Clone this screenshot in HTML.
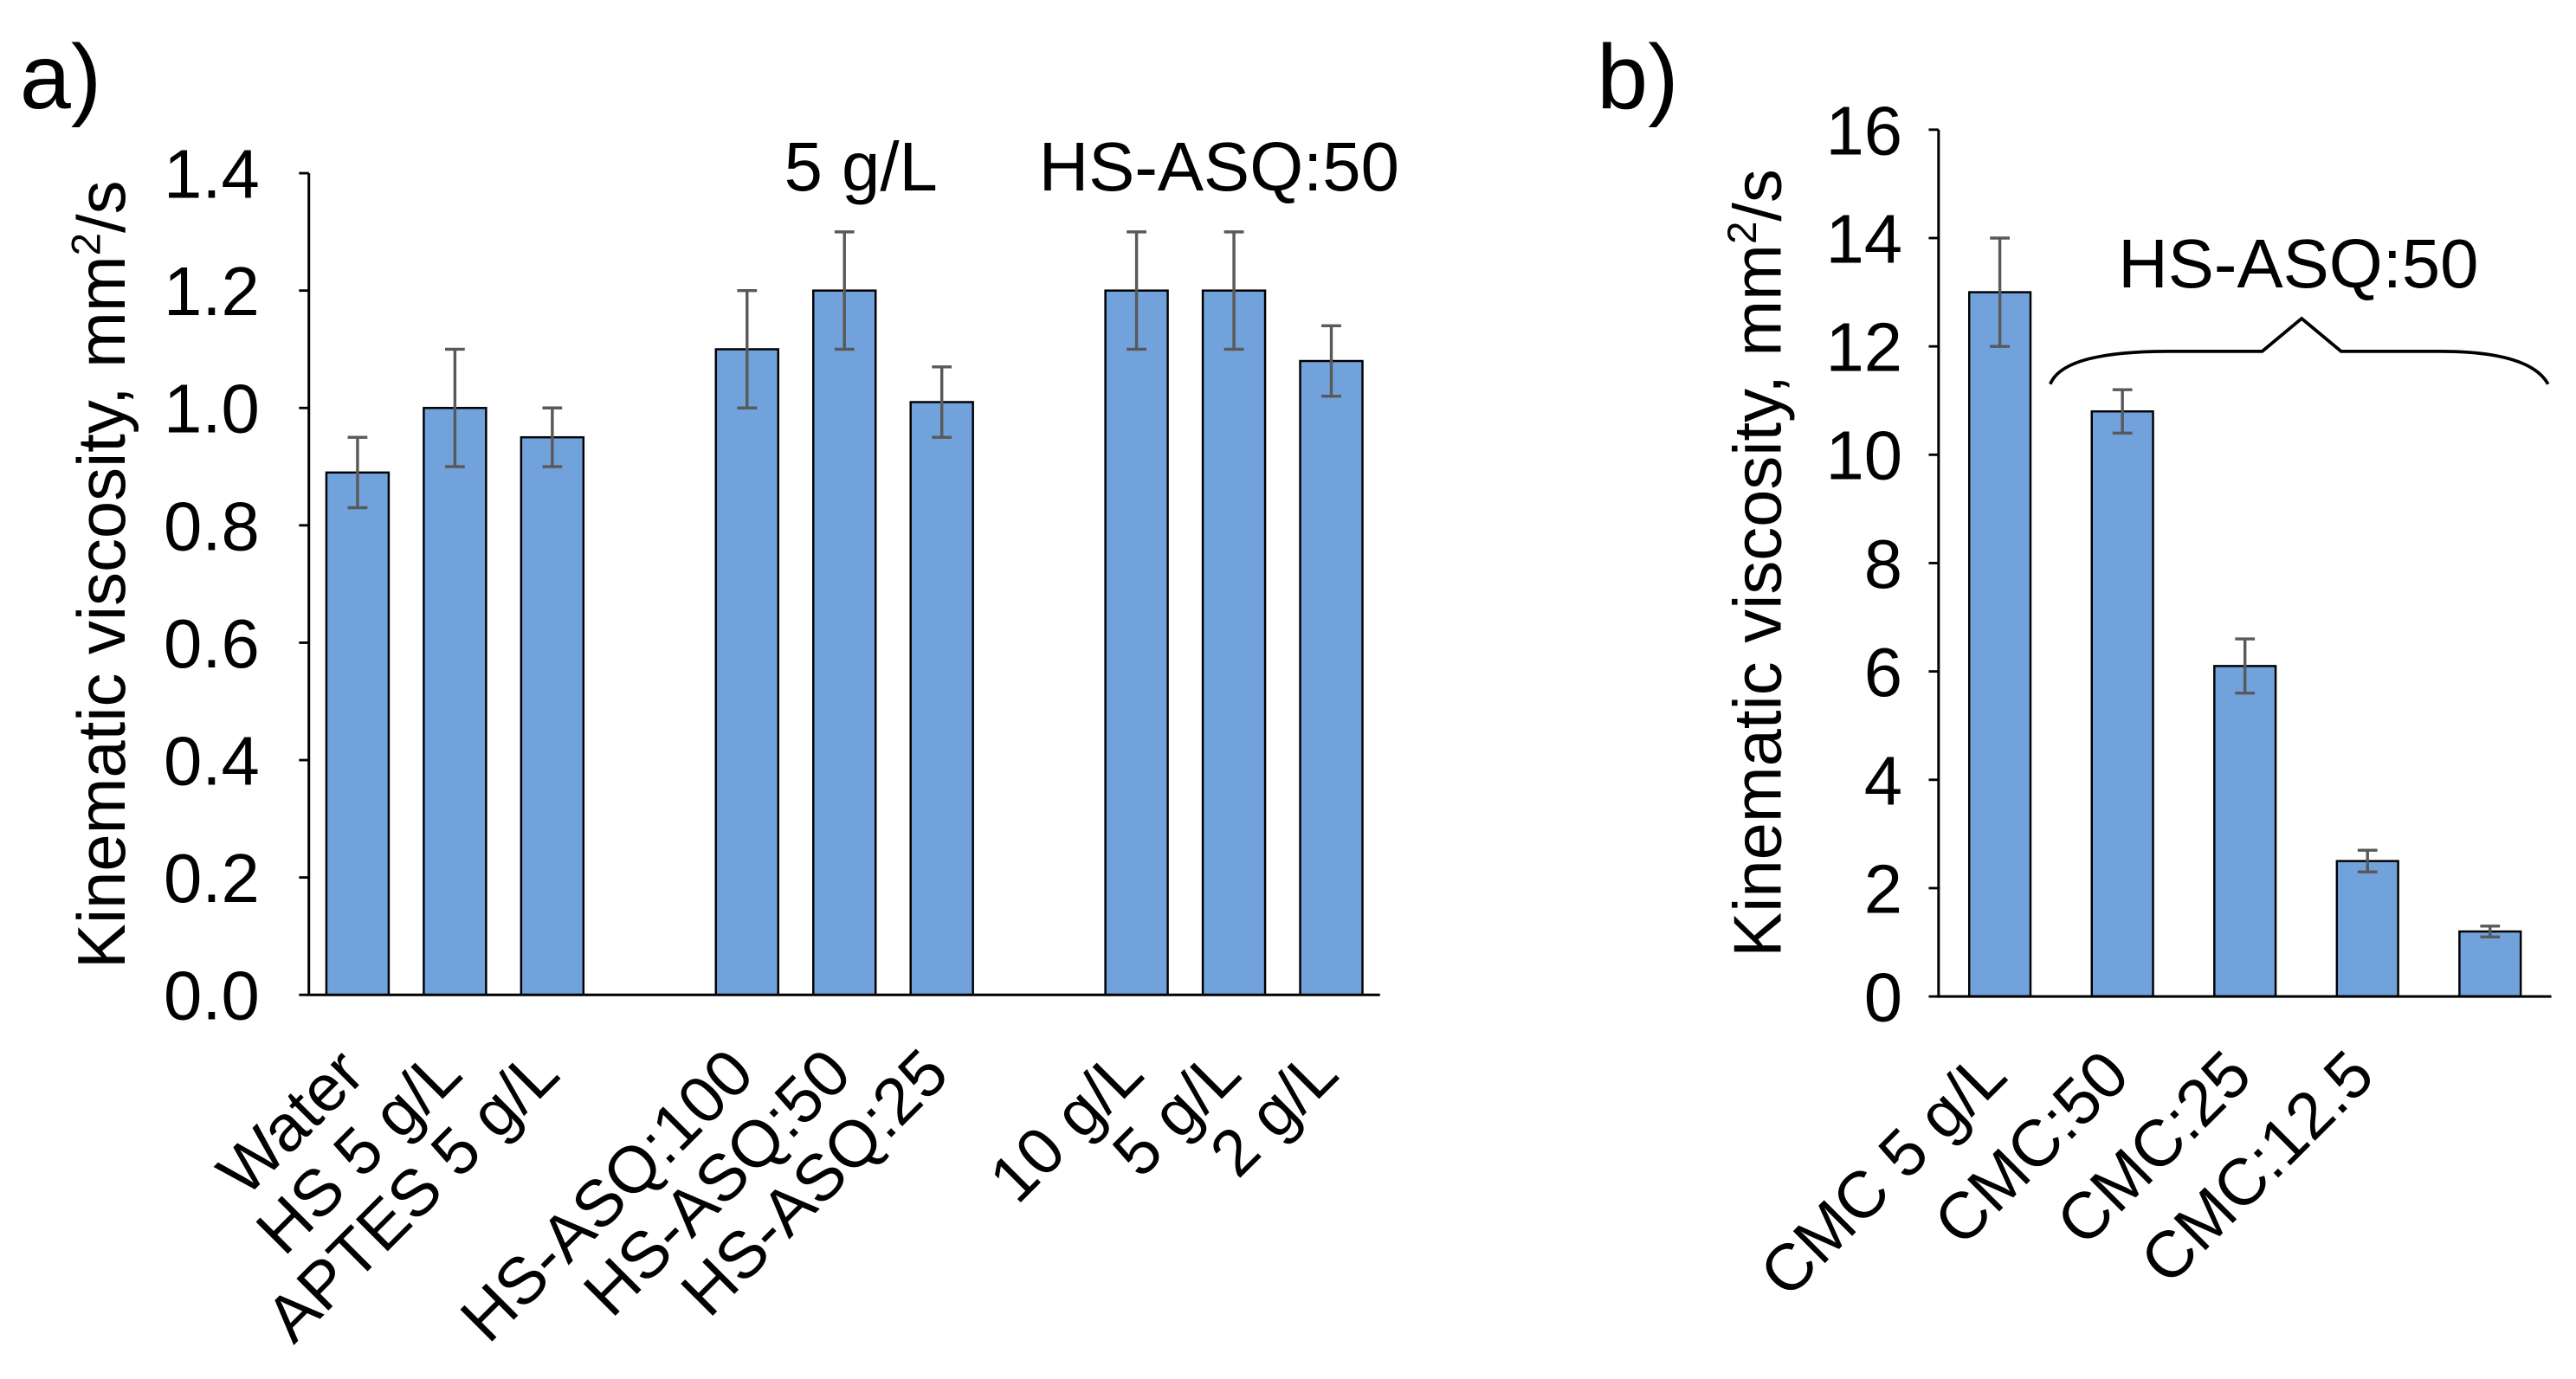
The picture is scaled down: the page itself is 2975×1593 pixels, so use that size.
<!DOCTYPE html>
<html><head><meta charset="utf-8"><style>
html,body{margin:0;padding:0;background:#fff}
svg{display:block}
text{font-family:"Liberation Sans",Arial,sans-serif;fill:#000}
</style></head><body>
<svg id="fig" width="2975" height="1593" viewBox="0 0 1568 840" preserveAspectRatio="none" xmlns="http://www.w3.org/2000/svg">
<text x="12" y="66" font-size="56">a)</text>
<text x="972" y="66" font-size="56">b)</text>
<text x="524" y="116" font-size="42" text-anchor="middle">5 g/L</text>
<text x="742" y="116" font-size="42" text-anchor="middle">HS-ASQ:50</text>
<text x="1399" y="175" font-size="42" text-anchor="middle">HS-ASQ:50</text>
<path d="M1248,234 Q1256,214 1320,214 L1377,214 L1401,194 L1425,214 L1485,214 Q1540,214 1551,234" fill="none" stroke="#000" stroke-width="2"/>
<text transform="translate(76,350) rotate(-90)" font-size="41" text-anchor="middle">Kinematic viscosity, mm<tspan font-size="25" dy="-15">2</tspan><tspan dy="15">/s</tspan></text>
<text transform="translate(1084,343) rotate(-90)" font-size="41" text-anchor="middle">Kinematic viscosity, mm<tspan font-size="25" dy="-15">2</tspan><tspan dy="15">/s</tspan></text>
<g id="ca"></g><g id="cb"></g>
</svg>
<script>
const catsA = ["Water","HS 5 g/L","APTES 5 g/L","","HS-ASQ:100","HS-ASQ:50","HS-ASQ:25","","10 g/L","5 g/L","2 g/L"];
const valsA = [0.89,1.0,0.95,null,1.1,1.2,1.01,null,1.2,1.2,1.08];
const errA = [0.06,0.1,0.05,null,0.1,0.1,0.06,null,0.1,0.1,0.06];
const ticksA = ["0.0","0.2","0.4","0.6","0.8","1.0","1.2","1.4"];
const catsB = ["CMC 5 g/L","CMC:50","CMC:25","CMC:12.5",""];
const valsB = [13,10.8,6.1,2.5,1.2];
const errB = [1,0.4,0.5,0.2,0.1];
const ticksB = ["0","2","4","6","8","10","12","14","16"];
const NS="http://www.w3.org/2000/svg";
function mk(p,t,a){const e=document.createElementNS(NS,t);for(const k in a)e.setAttribute(k,a[k]);p.appendChild(e);return e;}
function chart(g,cats,vals,errs,ticks,o){
  const n=cats.length, slot=(o.x1-o.x0)/n, tmax=parseFloat(ticks[ticks.length-1]);
  const ys=v=>o.y0-(v/tmax)*(o.y0-o.yt);
  const xs=i=>o.x0+slot*(i+0.5);
  ticks.forEach(t=>{const y=ys(parseFloat(t));
    const tk=mk(g,'line',{x1:o.x0-6,x2:o.x0,y1:y,y2:y,stroke:'#000','stroke-width':1.5});
    
    
    const tl=mk(g,'text',{x:o.x0-o.lg,y:y+15,'font-size':42,'text-anchor':'end'});tl.textContent=t;
    
    });
  vals.forEach((v,i)=>{
    if(cats[i]){const lb=mk(g,'text',{transform:`translate(${xs(i)+6},${o.y0+50}) rotate(-45)`,'font-size':40,'text-anchor':'end'});lb.textContent=cats[i];
      
      }
    if(v==null)return;
    const w=slot*o.bw, y=ys(v);
    const r=mk(g,'rect',{x:xs(i)-w/2,y:y,width:w,height:o.y0-y,fill:'#71a2dc',stroke:'#000','stroke-width':1.3});
    
    
    const e=errs[i], yt=ys(v+e), yb=ys(v-e), cx=xs(i);
    const eb=mk(g,'path',{d:`M${cx},${yt}V${yb}M${cx-6},${yt}H${cx+6}M${cx-6},${yb}H${cx+6}`,stroke:'#595959','stroke-width':1.8,fill:'none'});
    
    
  });
  const ax=mk(g,'path',{d:`M${o.x0},${o.yt}V${o.y0}H${o.x1}`,stroke:'#000','stroke-width':1.6,fill:'none'});
  
  
}
chart(document.getElementById('ca'),catsA,valsA,errA,ticksA,{x0:188,x1:840,y0:606,yt:105.5,bw:0.64,lg:30});
chart(document.getElementById('cb'),catsB,valsB,errB,ticksB,{x0:1180,x1:1553,y0:607,yt:79,bw:0.5,lg:22});
</script>
</body></html>
